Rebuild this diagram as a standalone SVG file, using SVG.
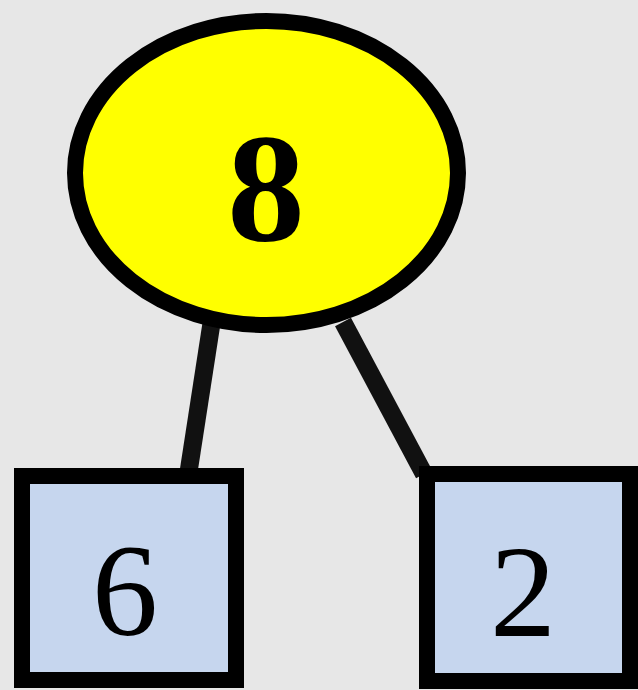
<svg xmlns="http://www.w3.org/2000/svg" width="638" height="690" viewBox="0 0 638 690">
  <defs>
    <filter id="grain" x="0" y="0" width="100%" height="100%">
      <feTurbulence type="fractalNoise" baseFrequency="0.9" numOctaves="2" seed="3" result="n"/>
      <feColorMatrix in="n" type="matrix" values="0 0 0 0 0.80  0 0 0 0 0.80  0 0 0 0 0.80  0 0 0 0.35 0" result="c"/>
      <feComposite in="c" in2="SourceGraphic" operator="in"/>
    </filter>
    <style>
      .edge { stroke: #111; stroke-width: 18; fill: none; }
      .leaf { fill: #c6d6ee; stroke: #000; stroke-width: 16; }
      .root { fill: #ffff00; stroke: #000; stroke-width: 16; }
      .lbl { font-family: "Liberation Serif", "Times New Roman", serif; text-anchor: middle; fill: #000; }
    </style>
  </defs>
  <rect x="0" y="0" width="638" height="690" fill="#e7e7e7"/>
  <rect x="0" y="0" width="638" height="690" fill="#000" filter="url(#grain)"/>
  <g id="connectors">
    <line class="edge" x1="212" y1="320" x2="187" y2="482"/>
    <line class="edge" x1="343" y1="322" x2="424" y2="474"/>
  </g>
  <g id="node-8">
    <ellipse class="root" cx="266.5" cy="173" rx="191.5" ry="152"/>
    <text class="lbl" x="266" y="240" font-size="155" font-weight="bold">8</text>
  </g>
  <g id="node-6">
    <rect class="leaf" x="22" y="476" width="214" height="204"/>
    <text class="lbl" x="125" y="635" font-size="132">6</text>
  </g>
  <g id="node-2">
    <rect class="leaf" x="427" y="474" width="203" height="207"/>
    <text class="lbl" x="523" y="636" font-size="132">2</text>
  </g>
</svg>
